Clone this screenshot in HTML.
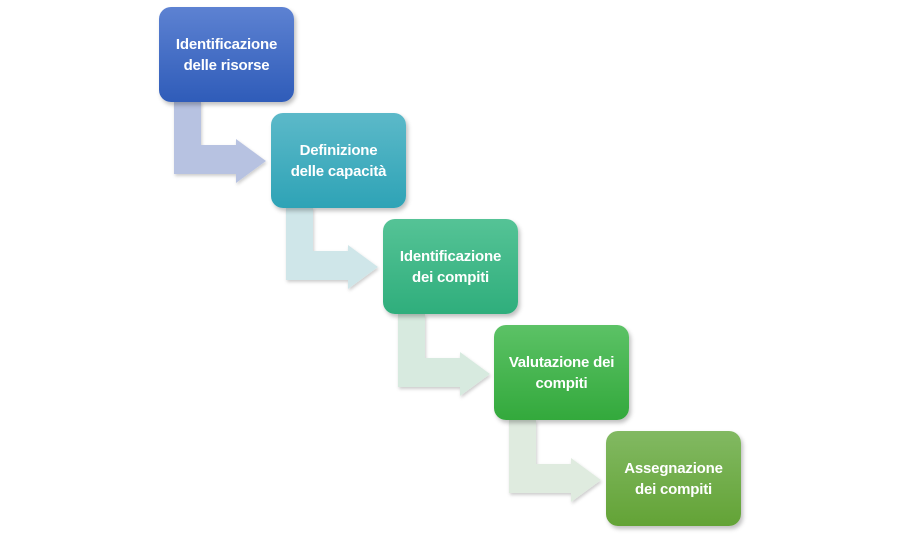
<!DOCTYPE html>
<html><head><meta charset="utf-8"><style>
html,body{margin:0;padding:0;background:#fff;}
body{width:900px;height:539px;position:relative;overflow:hidden;font-family:"Liberation Sans",sans-serif;}
.b{position:absolute;width:135px;height:95px;border-radius:12px;color:#fff;font-weight:bold;font-size:15px;line-height:21px;display:flex;align-items:center;justify-content:center;text-align:center;box-shadow:2px 3px 4px rgba(0,0,0,0.25);letter-spacing:-0.2px;}
svg{position:absolute;left:0;top:0;}
</style></head><body>
<svg width="900" height="539">
<defs><filter id="s"><feDropShadow dx="1" dy="2" stdDeviation="1.5" flood-opacity="0.2"/></filter></defs>
<g filter="url(#s)">
<path d="M0 0 H27 V44 H62 V38 L92 60 L62 82 V73 H0 Z" fill="#b7c2e1" transform="translate(174,101)"/>
<path d="M0 0 H27 V44 H62 V38 L92 60 L62 82 V73 H0 Z" fill="#cfe6e9" transform="translate(286,207)"/>
<path d="M0 0 H27 V44 H62 V38 L92 60 L62 82 V73 H0 Z" fill="#d7eadf" transform="translate(398,314)"/>
<path d="M0 0 H27 V44 H62 V38 L92 60 L62 82 V73 H0 Z" fill="#dfebdf" transform="translate(509,420)"/>
</g>
</svg>
<div class="b" style="left:159px;top:7px;background:linear-gradient(#5d82d2,#2f5cb9);">Identificazione<br>delle risorse</div>
<div class="b" style="left:271px;top:113px;background:linear-gradient(#5cb9c9,#2ea3b6);">Definizione<br>delle capacità</div>
<div class="b" style="left:383px;top:219px;background:linear-gradient(#55c396,#2fae7c);">Identificazione<br>dei compiti</div>
<div class="b" style="left:494px;top:325px;background:linear-gradient(#5cc266,#33a93c);">Valutazione dei<br>compiti</div>
<div class="b" style="left:606px;top:431px;background:linear-gradient(#82b962,#63a336);">Assegnazione<br>dei compiti</div>
</body></html>
